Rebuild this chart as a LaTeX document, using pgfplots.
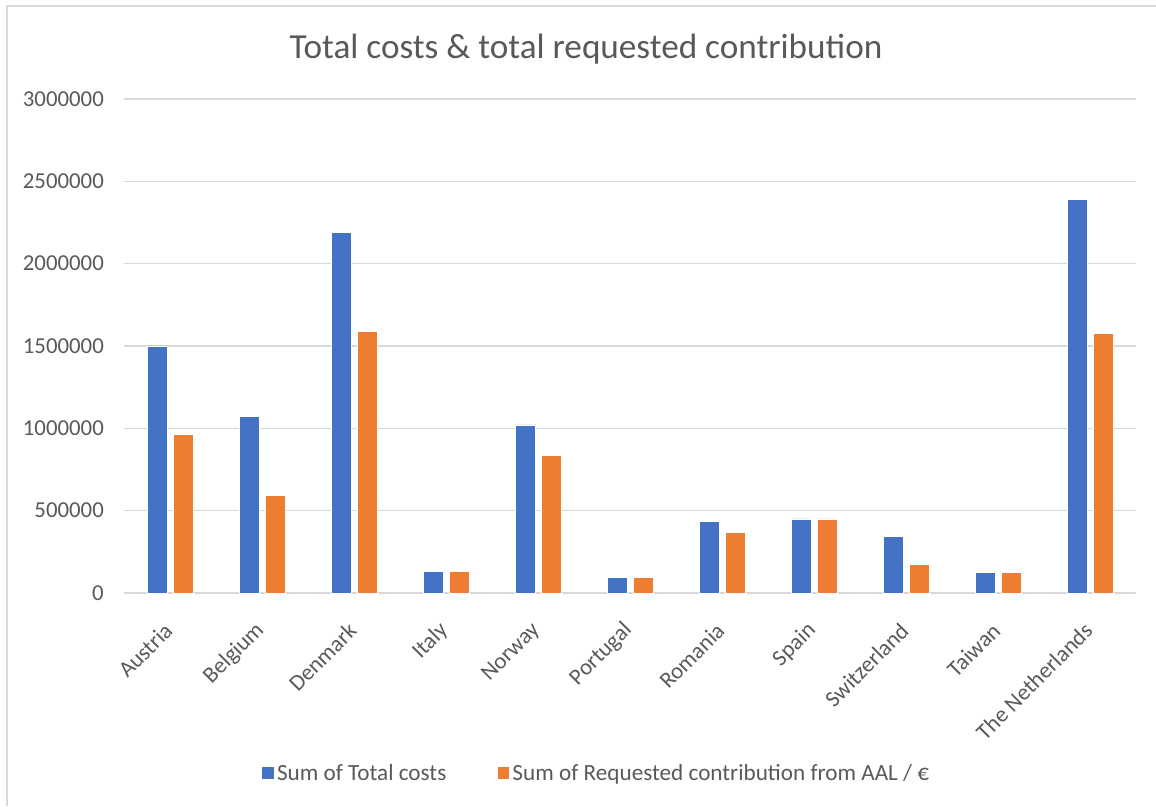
\documentclass[border=0pt]{standalone}
\usepackage{fontspec}
\setmainfont{Carlito}
\usepackage{pgfplots}
\pgfplotsset{compat=1.18}
\usepackage{pgfplotstable}

\definecolor{xlblue}{HTML}{4472C4}
\definecolor{xlorange}{HTML}{ED7D31}
\definecolor{xltext}{HTML}{595959}
\definecolor{xlgrid}{HTML}{D9D9D9}

% country, total costs, requested contribution
\pgfplotstableread{
idx cost contrib
0  1500000 965000
1  1074000 595000
2  2190000 1587000
3  133000  133000
4  1021000 834000
5  97000   97000
6  435000  370000
7  450000  450000
8  345000  177000
9  125000  125000
10 2392000 1577000
}\costs

\begin{document}
\begin{tikzpicture}[x=1pt,y=1pt]
\useasboundingbox (0,0) rectangle (1156,806);
\draw[xlgrid, line width=2pt] (7,0) -- (7,800) -- (1156,800);
\node[anchor=base, text=xltext, font=\fontsize{35.2}{40}\selectfont] at (586,747)
  {Total costs \& total requested contribution};
\begin{axis}[
  at={(124pt,213pt)}, anchor=south west,
  scale only axis, width=1012pt, height=494pt,
  ybar=6pt, bar width=20pt,
  xmin=-0.5, xmax=10.5,
  ymin=0, ymax=3000000,
  enlarge y limits=false,
  xtick=data,
  xticklabels={Austria,Belgium,Denmark,Italy,Norway,Portugal,Romania,Spain,Switzerland,Taiwan,The Netherlands},
  ytick={0,500000,1000000,1500000,2000000,2500000,3000000},
  scaled y ticks=false,
  yticklabel style={/pgf/number format/fixed, /pgf/number format/1000 sep={},
    /pgf/number format/assume math mode=true,
    inner sep=0pt, xshift=-20pt},
  xticklabel style={rotate=45, anchor=east, inner sep=0pt, xshift=-25pt, yshift=-23pt},
  tick label style={text=xltext, font=\fontsize{22.8}{26}\selectfont},
  major tick length=0pt,
  axis line style={draw=none},
  ymajorgrids,
  major grid style={xlgrid, line width=1.3pt},
  legend columns=2,
  legend style={at={(0.467,-0.364)}, anchor=center, draw=none, fill=none,
    text=xltext, font=\fontsize{23.2}{26}\selectfont,
    /tikz/every even column/.append style={column sep=48pt},
    nodes={inner sep=2.5pt}},
  legend image code/.code={\fill[#1] (0pt,-6.5pt) rectangle (12.5pt,6.5pt);},
]
\addplot[fill=xlblue, draw=white, line width=0.6pt] table[x=idx, y=cost] {\costs};
\addplot[fill=xlorange, draw=white, line width=0.6pt] table[x=idx, y=contrib] {\costs};
\legend{Sum of Total costs, Sum of Requested contribution from AAL / €}
\end{axis}
\end{tikzpicture}
\end{document}
